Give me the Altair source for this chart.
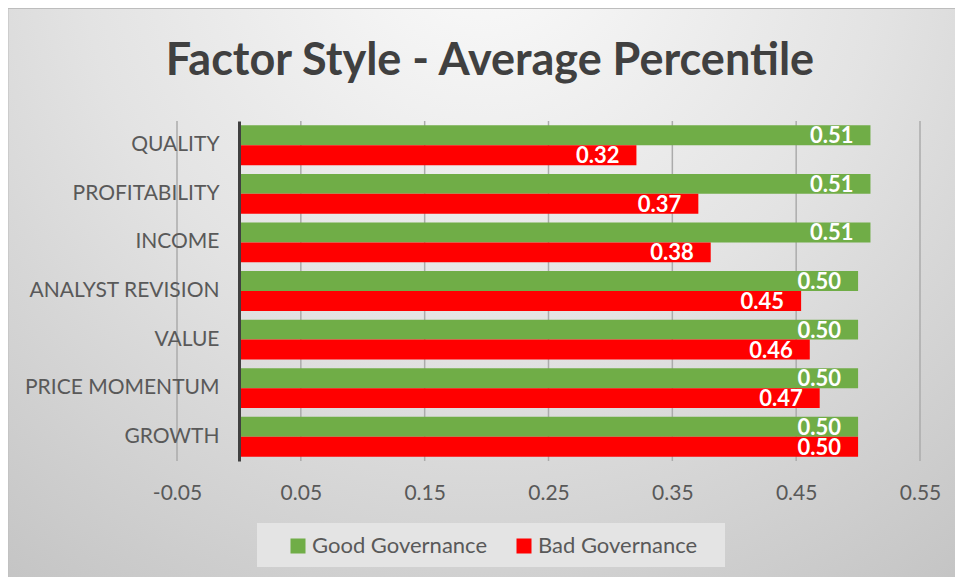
import altair as alt
import pandas as pd

factors = ["QUALITY", "PROFITABILITY", "INCOME", "ANALYST REVISION", "VALUE", "PRICE MOMENTUM", "GROWTH"]
good = [0.51, 0.51, 0.51, 0.50, 0.50, 0.50, 0.50]
bad = [0.321, 0.371, 0.381, 0.454, 0.461, 0.469, 0.50]
series = ["Good Governance", "Bad Governance"]
colors = ["#70AD47", "#FF0000"]
x_ticks = [-0.05, 0.05, 0.15, 0.25, 0.35, 0.45, 0.55]
title_text = ["Factor Style - Average Percentile"]

rows = []
for f, g, b in zip(factors, good, bad):
    rows.append({"Factor": f, "Series": series[0], "Value": g})
    rows.append({"Factor": f, "Series": series[1], "Value": b})
df = pd.DataFrame(rows)
grid_df = pd.DataFrame({"Value": x_ticks})

W, H = 743, 340
PL, PT, PR, PB = 169, 113, 35, 116
FONT = "Lato"

one = pd.DataFrame({"a": [0]})

bg = alt.Chart(one).mark_rect(
    fill={
        "gradient": "radial",
        "x1": 0.5, "y1": 0.12, "r1": 0,
        "x2": 0.5, "y2": 0.12, "r2": 0.85,
        "stops": [
            {"offset": 0, "color": "#fbfbfb"},
            {"offset": 0.5, "color": "#e3e3e3"},
            {"offset": 1, "color": "#c4c4c4"},
        ],
    },
    stroke="#bdbdbd",
    strokeWidth=1,
).encode(x=alt.value(-PL), x2=alt.value(W + PR + 2), y=alt.value(-PT + 0.5), y2=alt.value(H + PB + 2))

legend_box = alt.Chart(one).mark_rect(fill="#e4e4e4").encode(
    x=alt.value(80), x2=alt.value(548), y=alt.value(402), y2=alt.value(446)
)

x_axis = alt.Axis(title=None, values=x_ticks, format=".2f",
                  labelExpr="replace(datum.label, '\u2212', '-')",
                  grid=False, domain=False, ticks=False, labelFlush=False,
                  labelPadding=21, labelFont=FONT, labelFontSize=21, labelColor="#595959", zindex=1)
x_scale = alt.Scale(domain=[-0.05, 0.55], nice=False, zero=False)

y_enc = alt.Y(
    "Factor:N", sort=factors,
    scale=alt.Scale(paddingInner=0.18, paddingOuter=0.09),
    axis=alt.Axis(title=None, offset=-62, domainColor="#404040", domainWidth=3, ticks=False,
                  labelPadding=20, labelFont=FONT, labelFontSize=21, labelColor="#595959",
                  zindex=1, labelLimit=400),
)
x_enc = alt.X("Value:Q", stack=None, scale=x_scale, axis=x_axis)
yoff = alt.YOffset("Series:N", sort=series, scale=alt.Scale(paddingInner=0, paddingOuter=0))

grid = alt.Chart(grid_df).mark_rule(color="#ababab", strokeWidth=1.5).encode(
    x=x_enc, y=alt.value(0), y2=alt.value(H)
)

bars = alt.Chart(df).mark_bar().encode(
    y=y_enc, x=x_enc, yOffset=yoff,
    color=alt.Color("Series:N", sort=series, scale=alt.Scale(domain=series, range=colors),
                    legend=alt.Legend(title=None, orient="none", legendX=110, legendY=414,
                                      direction="horizontal", columns=2, symbolType="square",
                                      symbolSize=225, symbolStrokeWidth=0, labelFont=FONT,
                                      labelFontSize=22, labelColor="#595959", labelOffset=3,
                                      columnPadding=25, padding=0, labelLimit=300)),
)

labels = alt.Chart(df).mark_text(
    align="right", baseline="middle", dx=-17, dy=1, font=FONT, fontWeight="bold",
    fontSize=22, color="white",
).encode(
    y=y_enc, x=x_enc, yOffset=yoff,
    text=alt.Text("Value:Q", format=".2f"),
)

title = alt.Chart(pd.DataFrame({"t": title_text})).mark_text(
    font=FONT, fontWeight="bold", fontSize=45, color="#404040", align="center", baseline="alphabetic"
).encode(text="t:N", x=alt.value(313), y=alt.value(-46))

chart = alt.layer(bg, legend_box, grid, bars, labels, title).properties(
    width=W, height=H,
    autosize=alt.AutoSizeParams(type="none"),
    padding={"left": PL, "top": PT, "right": PR, "bottom": PB},
).configure_view(stroke=None).configure(background="white")

chart.save("out.html", embed_options={"renderer": "svg", "actions": False})
